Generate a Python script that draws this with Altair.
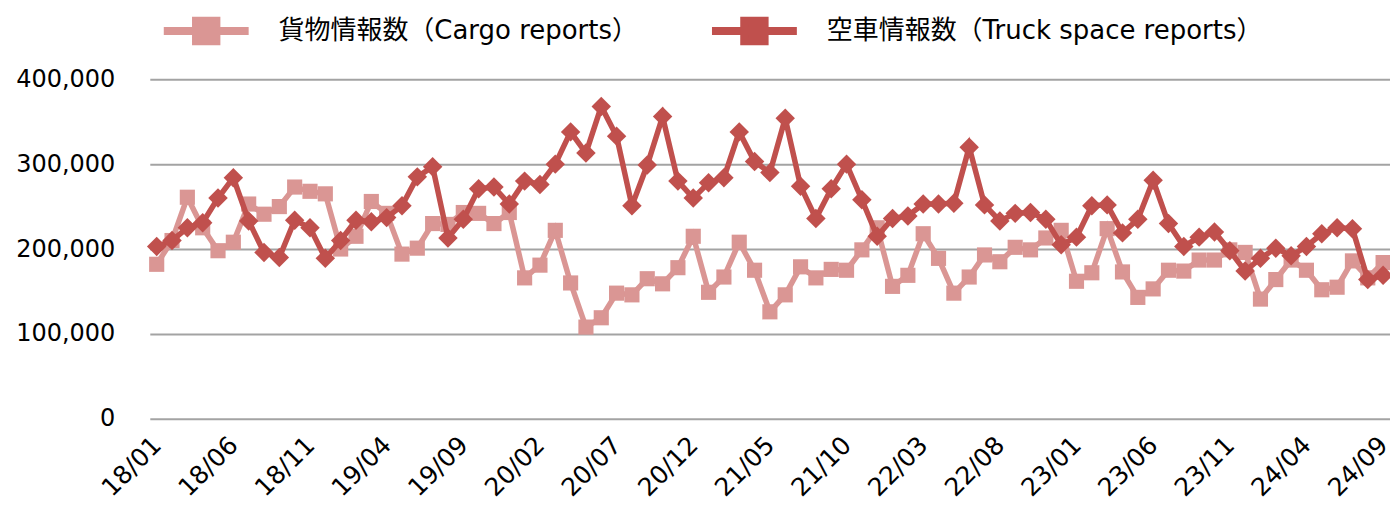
import altair as alt
import pandas as pd

months = []
for yy in range(18, 25):
    for mm in range(1, 13):
        if yy == 24 and mm > 9:
            break
        months.append(f"{yy:02d}/{mm:02d}")

cargo = [182, 210, 261, 225, 198, 208, 253, 241, 250, 273, 268, 265,
         200, 215, 256, 242, 194, 201, 230, 229, 243, 242, 230, 243,
         166, 181, 222, 160, 108, 119, 148, 146, 165, 159, 178, 215,
         149, 167, 208, 175, 126, 146, 179, 166, 176, 175, 199, 225,
         156, 169, 218, 189, 148, 167, 193, 185, 202, 199, 213, 222,
         162, 172, 224, 173, 143, 153, 175, 174, 187, 187, 199, 196,
         141, 164, 187, 175, 152, 155, 186, 166, 184]
truck = [203, 210, 225, 231, 260, 284, 233, 196, 190, 234, 225, 189,
         210, 234, 232, 237, 251, 285, 297, 213, 235, 271, 273, 253,
         280, 276, 300, 338, 313, 368, 333, 251, 299, 356, 280, 260,
         278, 284, 338, 303, 290, 354, 274, 236, 271, 300, 258, 215,
         236, 239, 253, 253, 254, 320, 252, 233, 242, 243, 235, 205,
         214, 251, 252, 219, 235, 281, 230, 203, 214, 220, 198, 174,
         189, 201, 192, 203, 218, 225, 224, 164, 169]

series_names = ["貨物情報数（Cargo reports）", "空車情報数（Truck space reports）"]
colors = ["#DA9694", "#C0504D"]
tick_labels = months[::5]

rows = []
for i, m in enumerate(months):
    rows.append({"month": m, "series": series_names[0], "value": cargo[i] * 1000})
for i, m in enumerate(months):
    rows.append({"month": m, "series": series_names[1], "value": truck[i] * 1000})
df = pd.DataFrame(rows)

font = "DejaVu Sans"
legend_font = "DejaVu Sans, Noto Sans CJK JP"

x = alt.X("month:O", sort=months,
          scale=alt.Scale(type="point", padding=0.45),
          axis=alt.Axis(values=tick_labels, labelAngle=315, labelFontSize=25,
                        labelFont=font, labelColor="#000000", labelPadding=22,
                        ticks=False, domain=False, grid=False, title=None,
                        labelAlign="right", labelBaseline="middle"))
y = alt.Y("value:Q", scale=alt.Scale(domain=[0, 400000], nice=False),
          axis=alt.Axis(values=[0, 100000, 200000, 300000, 400000], format=",.0f",
                        labelFontSize=24, labelFont=font, labelColor="#000000",
                        labelPadding=35, ticks=False, domain=False,
                        grid=True, gridColor="#A3A3A3", gridWidth=2, title=None))

legend = alt.Legend(
    title=None, orient="none", legendX=10, legendY=-95, direction="horizontal",
    symbolType="M-1,0H1M-0.24,-0.24H0.24V0.24H-0.24Z",
    symbolSize=7225, symbolStrokeWidth=8, symbolOpacity=1,
    labelFont=legend_font, labelFontSize=26, labelColor="#000000",
    labelOffset=26, columnPadding=58, labelLimit=700,
)
color = alt.Color("series:N", sort=series_names,
                  scale=alt.Scale(domain=series_names, range=colors), legend=legend)

base = alt.Chart(df).encode(x=x, y=y, color=color)
layers = []
shapes = ["square", "diamond"]
sizes = [230, 380]
for name, shp, sz in zip(series_names, shapes, sizes):
    sub = base.transform_filter(alt.datum.series == name)
    layers.append(sub.mark_line(strokeWidth=5.5))
    layers.append(sub.mark_point(filled=True, opacity=1, shape=shp, size=sz))

chart = alt.layer(*layers).properties(
    width=1242, height=340,
    padding={"left": 142, "top": 71, "right": 0, "bottom": 90},
    autosize=alt.AutoSizeParams(type="none"),
    view=alt.ViewBackground(strokeOpacity=0, strokeWidth=0, stroke="transparent"),
).configure_view(strokeWidth=0, strokeOpacity=0, stroke="transparent").configure(font=font).configure_axis(
    domain=False, domainOpacity=0
).configure_axisX(grid=False)

chart.save("out.html", embed_options={"renderer": "svg", "actions": False})
